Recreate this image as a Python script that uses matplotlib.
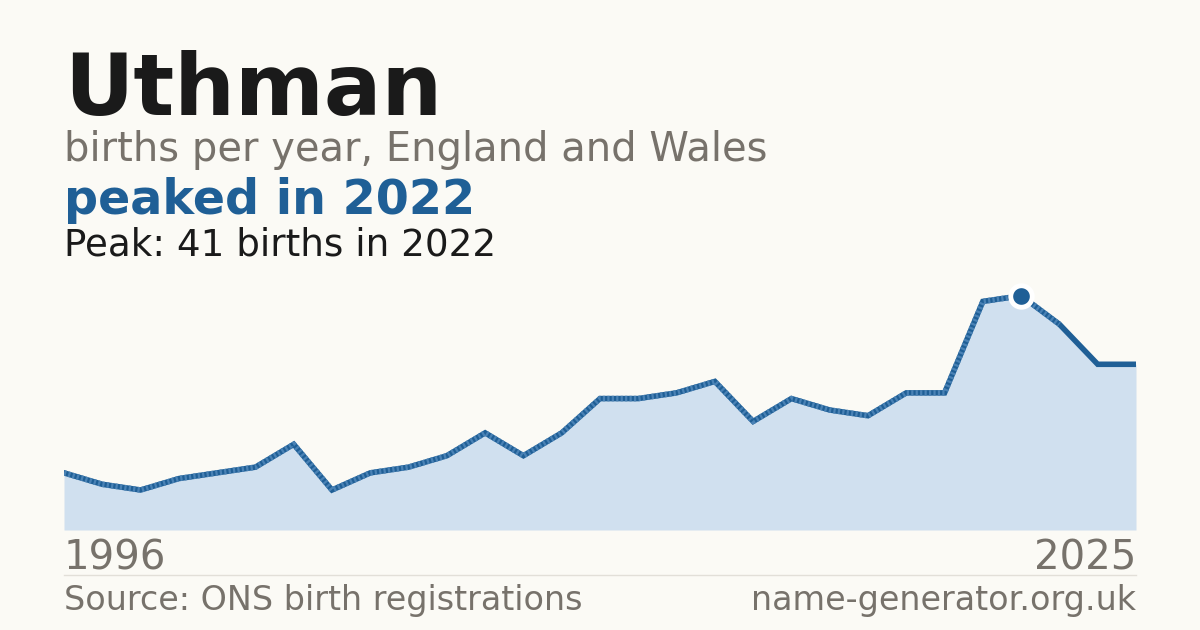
import matplotlib
matplotlib.use("Agg")
import matplotlib.pyplot as plt

# births per year (one year absent in the source series)
years = [1996, 1998, 1999, 2000, 2001, 2002, 2003, 2004, 2005, 2006,
         2007, 2008, 2009, 2010, 2011, 2012, 2013, 2014, 2015, 2016,
         2017, 2018, 2019, 2020, 2021, 2022, 2023, 2024, 2025]
births = [10, 8, 7, 9, 10, 11, 15, 7, 10, 11,
          13, 17, 13, 17, 23, 23, 24, 26, 19, 23,
          21, 20, 24, 24, 40, 41, 36, 29, 29]

name = "Uthman"
peak_idx = births.index(max(births))

BG = "#fbfaf5"
BLUE = "#1f5f96"
FILL = "#d0e0ef"
GREY = "#77726b"
DARK = "#1a1a1a"

W, H = 1200, 630
fig = plt.figure(figsize=(W / 100, H / 100), dpi=100, facecolor=BG)


def fx(px):
    return px / W


def fy(py):
    return 1 - py / H


ax = fig.add_axes([fx(64), fy(530), fx(1136) - fx(64), fy(270) - fy(530)])
ax.set_facecolor(BG)
x = list(range(len(years)))
ax.fill_between(x, births, 0, color=FILL, lw=0)
ax.plot(x, births, color=BLUE, lw=4, solid_joinstyle="miter", zorder=3)
ax.plot(x[:peak_idx + 2], births[:peak_idx + 2], color="#4a82b5", lw=4,
        linestyle=(0, (0.4, 0.4)), zorder=4)
ax.scatter([peak_idx], [births[peak_idx]], s=240, color=BLUE,
           edgecolor="white", linewidth=3.5, zorder=5)
ax.set_xlim(0, len(years) - 1)
ax.set_ylim(0, 45.5)
ax.axis("off")

fig.text(fx(64), fy(115), name, fontsize=61.5, fontweight="bold", color=DARK)
fig.text(fx(64), fy(161), "births per year, England and Wales", fontsize=28.8,
         color=GREY)
fig.text(fx(64), fy(214), f"peaked in {years[peak_idx]}", fontsize=34.3,
         fontweight="bold", color=BLUE)
fig.text(fx(64), fy(255), f"Peak: {births[peak_idx]} births in {years[peak_idx]}",
         fontsize=26.8, color=DARK)

fig.text(fx(64), fy(569), str(years[0]), fontsize=29, color=GREY)
fig.text(fx(1136), fy(569), str(years[-1]), fontsize=29, color=GREY, ha="right")
fig.add_artist(plt.Line2D([fx(64), fx(1136)], [fy(575), fy(575)],
                          color="#e2dfd8", lw=1))
fig.text(fx(64), fy(610), "Source: ONS birth registrations", fontsize=24,
         color=GREY)
fig.text(fx(1136), fy(610), "name-generator.org.uk", fontsize=24, color=GREY,
         ha="right")

fig.savefig("out.png", dpi=100, facecolor=BG)
